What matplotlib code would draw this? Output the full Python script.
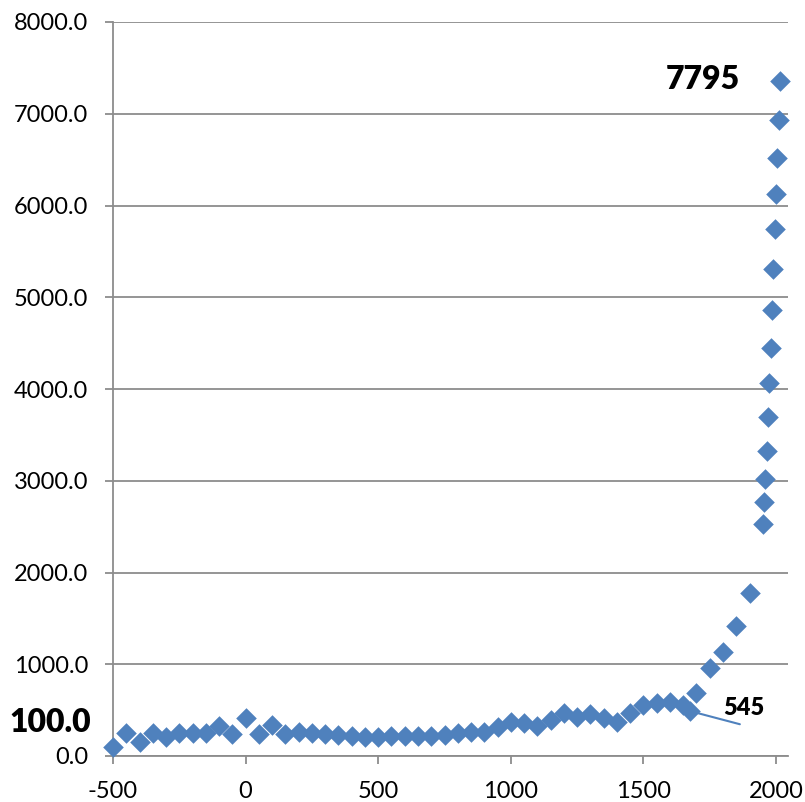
import matplotlib
matplotlib.use("Agg")
import matplotlib.pyplot as plt

# year and world population (millions)
years = [-500, -450, -400, -350, -300, -250, -200, -150, -100, -50,
         0, 50, 100, 150, 200, 250, 300, 350, 400, 450,
         500, 550, 600, 650, 700, 750, 800, 850, 900, 950,
         1000, 1050, 1100, 1150, 1200, 1250, 1300, 1350, 1400, 1450,
         1500, 1550, 1600, 1650, 1675, 1700, 1750, 1800, 1850, 1900,
         1950, 1955, 1960, 1965, 1970, 1975, 1980, 1985, 1990, 1995,
         2000, 2005, 2010, 2015]
population = [100, 251, 156, 248, 204, 248, 248, 248, 327, 236,
              411, 236, 338, 236, 265, 248, 236, 229, 218, 211,
              211, 218, 218, 218, 218, 229, 247, 265, 265, 320,
              374, 356, 327, 393, 465, 429, 458, 411, 374, 465,
              556, 574, 592, 556, 490, 692, 962, 1131, 1418, 1774,
              2530, 2767, 3021, 3326, 3690, 4064, 4446, 4856, 5311, 5744,
              6129, 6521, 6932, 7354]

x_ticks = [-500, 0, 500, 1000, 1500, 2000]
y_ticks = [0, 1000, 2000, 3000, 4000, 5000, 6000, 7000, 8000]

blue = "#4F81BD"
grey = "#8C8C8C"

plt.rcParams["font.family"] = ["Lato", "DejaVu Sans"]

fig = plt.figure(figsize=(8.05, 8.02), dpi=100)
ax = fig.add_axes([113 / 805, 1 - 756 / 802, (788 - 113) / 805, (756 - 22) / 802])

ax.scatter(years, population, marker="D", s=110, color=blue, zorder=3,
           linewidths=0, clip_on=False)

ax.set_xlim(-500, 2045)
ax.set_ylim(0, 8000)
ax.set_xticks(x_ticks)
ax.set_yticks(y_ticks)
ax.set_xticklabels([str(t) for t in x_ticks])
ax.set_yticklabels([f"{t:.1f}" for t in y_ticks])

ax.grid(axis="y", color=grey, lw=1.3)
ax.set_axisbelow(True)
for side in ["top", "right"]:
    ax.spines[side].set_visible(False)
for side in ["left", "bottom"]:
    ax.spines[side].set_color(grey)
    ax.spines[side].set_linewidth(1.3)
ax.tick_params(axis="both", colors=grey, width=1.3, length=6, labelsize=17,
               labelcolor="black")
ax.tick_params(axis="y", pad=12)
ax.tick_params(axis="x", pad=12)

# data labels
ax.annotate("100.0", xy=(years[0], population[0]), xytext=(-16, 17.5),
            textcoords="offset points", ha="right", va="center",
            fontsize=23, fontweight="heavy")
ax.annotate("7795", xy=(years[-1], population[-1]), xytext=(-29, 1),
            textcoords="offset points", ha="right", va="center",
            fontsize=23, fontweight="heavy")
i = years.index(1675)
ax.annotate("", xy=(years[i], population[i]), xytext=(36, -9.5),
            textcoords="offset points",
            arrowprops=dict(arrowstyle="-", color=blue, lw=1.5, shrinkA=0, shrinkB=0))
ax.annotate("545", xy=(years[i], population[i]), xytext=(24, 2),
            textcoords="offset points", ha="left", va="center",
            fontsize=17, fontweight="heavy")

fig.savefig("out.png", dpi=100)
